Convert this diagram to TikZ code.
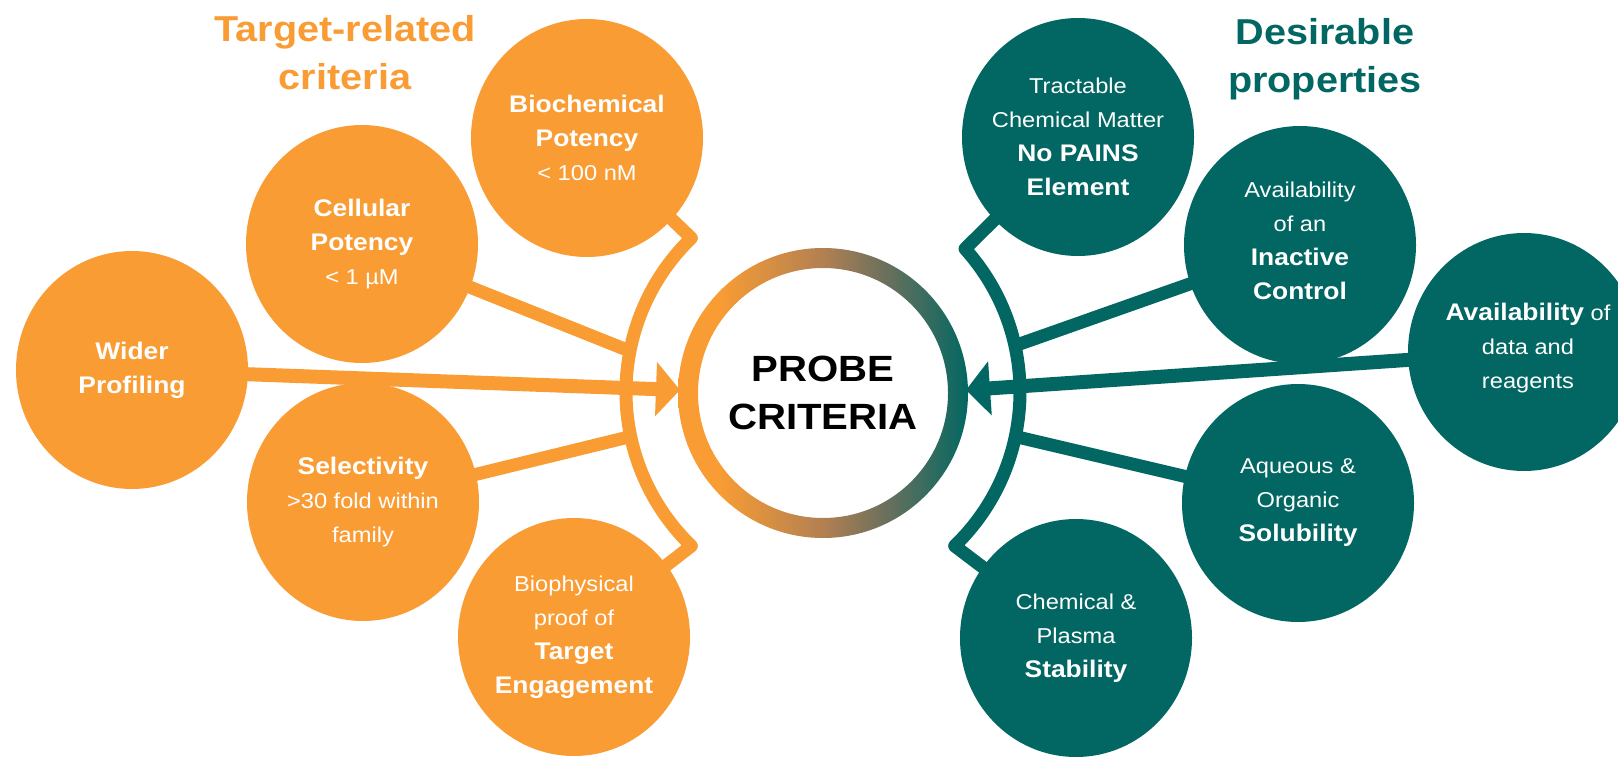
\documentclass[tikz,border=0pt]{standalone}
\usepackage{fontspec}
\setmainfont[FakeStretch=1.1]{Liberation Sans}
\usetikzlibrary{calc,arrows.meta,shapes.geometric}

\definecolor{orng}{RGB}{249,156,52}
\definecolor{tealc}{RGB}{2,103,98}
\definecolor{ringtan}{RGB}{178,128,82}
\definecolor{ringgrey}{RGB}{112,113,92}

% orange held on the left, passing through tan and grey into teal
\pgfdeclarehorizontalshading{ringshade}{100bp}{color(0bp)=(orng); color(32bp)=(orng); color(50bp)=(ringtan); color(60bp)=(ringgrey); color(75bp)=(tealc); color(100bp)=(tealc)}

\pgfdeclarelayer{paper}
\pgfdeclarelayer{links}
\pgfsetlayers{paper,links,main}

\newcommand{\bline}[1]{{\fontsize{24}{34}\selectfont\bfseries #1}}

\begin{document}
\begin{tikzpicture}[x=1pt,y=-1pt,
  bubble/.style={ellipse, minimum width=232pt, minimum height=238pt, inner sep=0pt},
  obub/.style={bubble, fill=orng},
  tbub/.style={bubble, fill=tealc},
  ctext/.style={text=white, align=center, inner sep=0pt, font=\fontsize{21.5}{34}\selectfont},
  conn/.style={line width=13pt, line join=round},
  oconn/.style={conn, draw=orng},
  tconn/.style={conn, draw=tealc},
  bigarrow/.style={line width=14pt, -{Triangle[length=24pt,width=53pt]}},
  oarrow/.style={bigarrow, draw=orng, fill=orng},
  tarrow/.style={bigarrow, draw=tealc, fill=tealc},
  ttl/.style={font=\fontsize{36}{47}\selectfont\bfseries, inner sep=0pt, anchor=base},
]
\begin{pgfonlayer}{paper}
  \fill[white] (0,0) rectangle (1618,757);
\end{pgfonlayer}
\useasboundingbox (0,0) rectangle (1618,757);

% headings
\node[ttl, text=orng] (tl1) at (345,42) {Target-related};
\node[ttl, text=orng] (tl2) at (345,90) {criteria};
\node[ttl, text=tealc] (tr1) at (1325,45) {Desirable};
\node[ttl, text=tealc] (tr2) at (1325,93) {properties};

% central ring
\node[circle, minimum size=250pt, inner sep=0pt, fill=white, align=center,
      font=\fontsize{36.5}{48}\selectfont\bfseries] (ring) at (823,393) {PROBE\\CRITERIA};
\shade[shading=ringshade, even odd rule] (ring.center) circle[radius=145pt] circle[radius=125pt];

% target-related bubbles
\node[obub] (bio) at (587,138) {};
\node[ctext] (bio-t) at (bio.center) {\bline{Biochemical}\\\bline{Potency}\\< 100 nM};
\node[obub] (cell) at (362,244) {};
\node[ctext] (cell-t) at (cell.center) {\bline{Cellular}\\\bline{Potency}\\< 1 µM};
\node[obub] (wider) at (132,370) {};
\node[ctext] (wider-t) at (wider.center) {\bline{Wider}\\\bline{Profiling}};
\node[obub] (sel) at (363,502) {};
\node[ctext] (sel-t) at (sel.center) {\bline{Selectivity}\\>30 fold within\\family};
\node[obub] (tgt) at (574,637) {};
\node[ctext] (tgt-t) at (tgt.center) {Biophysical\\proof of\\\bline{Target}\\\bline{Engagement}};

% desirable-property bubbles
\node[tbub] (pains) at (1078,137) {};
\node[ctext] (pains-t) at (pains.center) {Tractable\\Chemical Matter\\\bline{No PAINS}\\\bline{Element}};
\node[tbub] (inact) at (1300,245) {};
\node[ctext] (inact-t) at ($(inact.center)+(0,-4)$) {Availability\\of an\\\bline{Inactive}\\\bline{Control}};
\node[tbub] (avail) at (1524,352) {};
\node[ctext] (avail-t) at ($(avail.center)+(4,-4)$) {\bline{Availability} of\\data and\\reagents};
\node[tbub] (sol) at (1298,503) {};
\node[ctext] (sol-t) at (sol.center) {Aqueous \&\\Organic\\\bline{Solubility}};
\node[tbub] (stab) at (1076,638) {};
\node[ctext] (stab-t) at (stab.center) {Chemical \&\\Plasma\\\bline{Stability}};

% brackets, spokes and arrows behind the bubbles
\begin{pgfonlayer}{links}
  \coordinate (lc) at (840,392);
  \coordinate (rc) at (806,392);
  \coordinate (kLB) at ($(lc)+(226:214pt)$);
  \coordinate (kRB) at ($(rc)+(-46:214pt)$);
  \coordinate (pCell) at ($(lc)+(169:214pt)$);
  \coordinate (pSel) at ($(lc)+(192:214pt)$);
  \coordinate (pInact) at ($(rc)+(12.5:214pt)$);
  \coordinate (pSol) at ($(rc)+(-12:214pt)$);
  \coordinate (tipL) at ($(ring.center)+(-143,-3)$);
  \coordinate (tipR) at ($(ring.center)+(143,-3)$);

  \draw[oconn] (tgt.center) -- (kLB) arc[start angle=226, end angle=134, radius=214pt] -- (bio.center);
  \draw[oconn] (cell.center) -- (pCell);
  \draw[oconn] (sel.center) -- (pSel);
  \draw[oarrow] (wider.center) -- (tipL);

  \draw[tconn] (stab.center) -- (kRB) arc[start angle=-46, end angle=42, radius=214pt] -- (pains.center);
  \draw[tconn] (inact.center) -- (pInact);
  \draw[tconn] (sol.center) -- (pSol);
  \draw[tarrow] (avail.center) -- (tipR);
\end{pgfonlayer}
\end{tikzpicture}
\end{document}
